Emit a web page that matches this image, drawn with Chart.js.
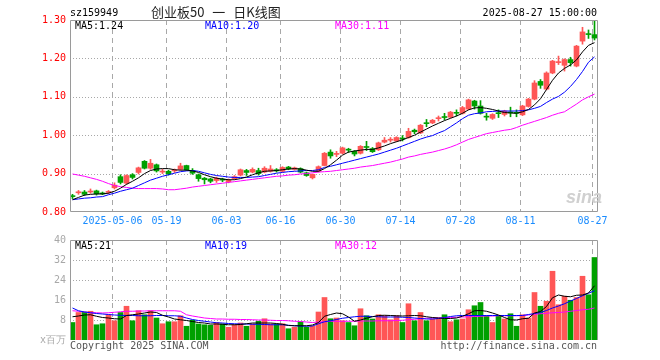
<!DOCTYPE html>
<html><head><meta charset="utf-8">
<script src="https://cdn.jsdelivr.net/npm/chart.js@4.4.1/dist/chart.umd.min.js"></script>
<style>
html,body{margin:0;padding:0;background:#fff;}
#wrap{position:relative;width:660px;height:360px;overflow:hidden;background:#fff;}
#price{position:absolute;left:0;top:0;}
#vol{position:absolute;left:0;top:225px;}
</style></head><body>
<div id="wrap">
<canvas id="price" width="660" height="360"></canvas>
<canvas id="vol" width="660" height="135"></canvas>
</div>
<script>
// ---------- data ----------
const dates = ['2025-04-22','2025-04-23','2025-04-24','2025-04-25','2025-04-28','2025-04-29','2025-04-30','2025-05-06','2025-05-07','2025-05-08','2025-05-09','2025-05-12','2025-05-13','2025-05-14','2025-05-15','2025-05-16','2025-05-19','2025-05-20','2025-05-21','2025-05-22','2025-05-23','2025-05-26','2025-05-27','2025-05-28','2025-05-29','2025-05-30','2025-06-03','2025-06-04','2025-06-05','2025-06-06','2025-06-09','2025-06-10','2025-06-11','2025-06-12','2025-06-13','2025-06-16','2025-06-17','2025-06-18','2025-06-19','2025-06-20','2025-06-23','2025-06-24','2025-06-25','2025-06-26','2025-06-27','2025-06-30','2025-07-01','2025-07-02','2025-07-03','2025-07-04','2025-07-07','2025-07-08','2025-07-09','2025-07-10','2025-07-11','2025-07-14','2025-07-15','2025-07-16','2025-07-17','2025-07-18','2025-07-21','2025-07-22','2025-07-23','2025-07-24','2025-07-25','2025-07-28','2025-07-29','2025-07-30','2025-07-31','2025-08-01','2025-08-04','2025-08-05','2025-08-06','2025-08-07','2025-08-08','2025-08-11','2025-08-12','2025-08-13','2025-08-14','2025-08-15','2025-08-18','2025-08-19','2025-08-20','2025-08-21','2025-08-22','2025-08-25','2025-08-26','2025-08-27'];

const openP = [0.842,0.850,0.852,0.852,0.855,0.849,0.851,0.863,0.892,0.875,
0.897,0.903,0.932,0.914,0.923,0.904,0.906,0.907,0.911,0.921,
0.908,0.897,0.888,0.886,0.882,0.884,0.879,0.887,0.896,0.908,
0.904,0.908,0.904,0.906,0.910,0.906,0.917,0.911,0.913,0.902,
0.889,0.906,0.921,0.956,0.950,0.953,0.963,0.958,0.953,0.970,
0.965,0.962,0.982,0.987,0.985,0.992,0.994,1.013,1.006,1.032,
1.032,1.043,1.047,1.047,1.058,1.057,1.068,1.089,1.076,1.049,
1.044,1.058,1.054,1.060,1.058,1.053,1.075,1.094,1.140,1.120,
1.162,1.189,1.182,1.197,1.180,1.245,1.264,1.262];

const highP = [0.846,0.856,0.856,0.860,0.857,0.852,0.856,0.876,0.897,0.897,
0.900,0.917,0.934,0.937,0.925,0.911,0.909,0.912,0.927,0.922,
0.913,0.899,0.890,0.888,0.891,0.888,0.886,0.895,0.912,0.911,
0.915,0.914,0.918,0.921,0.913,0.918,0.919,0.917,0.915,0.904,
0.899,0.920,0.955,0.962,0.958,0.969,0.966,0.960,0.973,0.984,
0.968,0.982,0.994,0.994,0.996,0.999,1.018,1.016,1.028,1.041,
1.041,1.050,1.057,1.062,1.066,1.075,1.094,1.091,1.090,1.057,
1.056,1.066,1.065,1.073,1.066,1.078,1.096,1.142,1.145,1.165,
1.195,1.206,1.199,1.203,1.234,1.281,1.274,1.300];

const lowP = [0.835,0.846,0.843,0.849,0.844,0.845,0.848,0.860,0.873,0.872,
0.886,0.899,0.912,0.911,0.904,0.900,0.896,0.903,0.909,0.908,
0.898,0.880,0.873,0.876,0.877,0.879,0.876,0.885,0.894,0.895,
0.902,0.896,0.902,0.904,0.904,0.904,0.910,0.909,0.902,0.893,
0.886,0.904,0.920,0.940,0.944,0.951,0.955,0.946,0.951,0.960,
0.955,0.960,0.980,0.982,0.983,0.985,0.992,1.004,1.004,1.022,
1.030,1.037,1.040,1.045,1.050,1.055,1.066,1.068,1.055,1.039,
1.041,1.046,1.050,1.048,1.048,1.051,1.073,1.092,1.122,1.118,
1.160,1.184,1.167,1.180,1.178,1.237,1.252,1.248];

const closeP = [0.840,0.852,0.846,0.854,0.847,0.847,0.853,0.870,0.877,0.895,
0.890,0.915,0.914,0.927,0.907,0.906,0.899,0.909,0.920,0.910,
0.901,0.887,0.884,0.880,0.888,0.883,0.883,0.892,0.910,0.903,
0.911,0.900,0.914,0.912,0.907,0.916,0.912,0.915,0.904,0.895,
0.898,0.918,0.953,0.946,0.952,0.967,0.961,0.951,0.971,0.968,
0.957,0.980,0.987,0.989,0.994,0.990,1.010,1.009,1.026,1.030,
1.039,1.045,1.046,1.060,1.057,1.072,1.092,1.076,1.057,1.047,
1.054,1.056,1.063,1.058,1.057,1.076,1.094,1.136,1.130,1.162,
1.193,1.191,1.197,1.189,1.232,1.269,1.262,1.253];

const ma5 = [0.832,0.838,0.844,0.846,0.847,0.847,0.849,0.854,0.862,0.872,
0.880,0.889,0.900,0.908,0.912,0.913,0.913,0.910,0.909,0.909,
0.907,0.903,0.897,0.892,0.888,0.886,0.884,0.884,0.887,0.891,
0.897,0.902,0.906,0.907,0.908,0.910,0.912,0.913,0.912,0.909,
0.906,0.906,0.913,0.923,0.935,0.948,0.956,0.959,0.961,0.963,
0.963,0.967,0.972,0.978,0.983,0.988,0.994,1.000,1.008,1.016,
1.024,1.031,1.038,1.044,1.050,1.057,1.066,1.071,1.072,1.070,
1.067,1.063,1.059,1.058,1.057,1.061,1.067,1.079,1.095,1.119,
1.143,1.162,1.174,1.183,1.196,1.217,1.234,1.241];

const ma10 = [0.832,0.834,0.836,0.837,0.839,0.840,0.845,0.849,0.854,0.858,
0.862,0.869,0.876,0.883,0.888,0.893,0.897,0.901,0.905,0.907,
0.908,0.906,0.902,0.898,0.895,0.893,0.891,0.890,0.890,0.890,
0.891,0.892,0.895,0.898,0.901,0.903,0.905,0.906,0.907,0.908,
0.908,0.910,0.916,0.919,0.923,0.927,0.931,0.935,0.939,0.943,
0.947,0.951,0.956,0.961,0.966,0.972,0.978,0.984,0.990,0.995,
0.999,1.006,1.012,1.022,1.032,1.043,1.052,1.056,1.058,1.061,
1.062,1.063,1.063,1.063,1.063,1.064,1.066,1.070,1.075,1.085,
1.094,1.101,1.112,1.127,1.145,1.166,1.190,1.204];

const ma30 = [0.899,0.896,0.893,0.889,0.885,0.880,0.874,0.869,0.866,0.864,
0.862,0.861,0.861,0.861,0.861,0.860,0.858,0.858,0.860,0.862,
0.865,0.867,0.869,0.871,0.873,0.875,0.877,0.879,0.881,0.883,
0.885,0.887,0.889,0.891,0.893,0.894,0.896,0.897,0.899,0.900,
0.902,0.904,0.905,0.906,0.908,0.910,0.912,0.914,0.917,0.919,
0.921,0.924,0.927,0.930,0.934,0.938,0.943,0.946,0.950,0.953,
0.956,0.960,0.964,0.969,0.975,0.982,0.989,0.994,0.999,1.004,
1.007,1.010,1.013,1.015,1.020,1.026,1.031,1.036,1.041,1.046,
1.052,1.057,1.061,1.071,1.081,1.092,1.100,1.107];

const volume = [7.0,11.0,11.2,11.5,6.1,6.5,10.1,7.7,11.0,13.5,
7.7,11.7,10.1,11.7,8.8,6.5,7.3,7.3,9.7,5.5,
7.9,6.4,6.1,5.9,7.0,6.4,5.1,6.1,6.8,5.5,
6.4,7.5,8.5,6.4,6.4,6.5,4.5,5.1,7.3,5.1,
5.5,11.2,17.0,8.5,8.8,7.7,7.0,5.7,12.5,9.7,
8.4,10.1,9.7,8.1,9.7,7.0,14.5,7.7,11.0,7.7,
8.4,8.4,10.1,7.3,8.1,8.4,12.1,13.7,15.0,9.7,
7.0,9.5,8.4,10.5,5.5,10.1,8.8,19.0,13.5,15.5,
27.5,14.1,17.5,15.9,17.0,25.5,18.1,33.0];

const volMa5 = [9.3,9.6,10.0,10.1,9.5,9.0,8.8,8.5,8.4,9.8,
10.1,10.4,10.8,11.2,11.0,9.9,9.2,8.4,8.1,7.8,
7.4,7.0,6.8,6.4,6.4,6.3,6.1,6.1,6.2,6.5,
6.8,6.8,6.8,6.8,6.6,6.3,5.8,5.7,5.7,5.7,
6.0,7.0,9.5,10.2,10.8,10.5,9.2,7.5,8.0,8.7,
9.3,9.8,9.9,9.8,9.7,9.6,9.7,9.8,9.7,9.3,
9.0,8.8,8.6,8.6,8.8,9.5,10.5,11.7,11.8,11.5,
10.8,10.0,9.0,8.1,8.0,8.5,8.7,10.8,11.4,13.4,
16.9,18.0,17.5,17.3,17.9,18.0,18.8,21.7];

const volMa10 = [12.8,11.7,11.2,10.9,10.6,10.4,10.2,10.0,9.9,9.8,
9.8,9.7,9.7,9.7,9.8,9.8,9.7,9.7,9.5,8.8,
8.2,7.8,7.5,7.2,6.9,6.8,6.6,6.5,6.4,6.4,
6.3,6.3,6.2,6.1,6.1,6.1,5.9,5.7,5.6,5.5,
5.6,6.5,7.3,7.7,8.2,8.7,9.0,9.3,9.5,9.5,
9.4,9.3,9.2,9.2,9.2,9.1,9.0,8.8,8.6,8.4,
8.4,8.6,9.0,9.4,9.7,9.8,9.8,9.8,9.8,9.8,
9.8,9.8,9.8,9.8,9.8,9.8,10.2,10.6,11.0,11.8,
12.8,13.6,14.5,15.6,16.6,17.7,18.7,19.7];

const volMa30 = [11.7,11.5,11.2,11.0,10.9,10.8,10.9,11.1,11.3,11.5,
11.5,11.6,11.6,11.7,11.7,11.7,11.7,11.7,11.5,10.1,
9.6,9.2,8.8,8.6,8.4,8.4,8.3,8.3,8.2,8.2,
8.1,8.0,8.0,7.9,7.8,7.8,7.7,7.5,7.4,7.2,
7.0,7.2,7.3,7.5,7.5,7.5,7.5,7.5,7.6,7.6,
7.6,7.7,7.7,7.7,7.8,7.9,8.1,8.3,8.5,8.7,
8.8,8.9,8.9,9.0,9.1,9.2,9.3,9.4,9.5,9.6,
9.6,9.7,9.7,9.7,9.7,9.8,10.0,10.3,10.5,10.7,
10.9,11.0,11.2,11.5,11.8,12.1,12.3,12.8];

const xTickDates = ['2025-05-06','2025-05-19','2025-06-03','2025-06-16','2025-06-30','2025-07-14','2025-07-28','2025-08-11','2025-08-27'];
const xTickLabels = ['2025-05-06','05-19','06-03','06-16','06-30','07-14','07-28','08-11','08-27'];
const priceTicks = [0.80,0.90,1.00,1.10,1.20,1.30];
const volTicks = [0,8,16,24,32,40];

// ---------- style ----------
const RED = '#ff5656', GREEN = '#00a000';
const MONO = '"DejaVu Sans Mono", "Liberation Mono", monospace';
const GRIDC = '#a8a8a8', FRAMEC = '#9a9a9a';
const X_MIN = -0.4167, X_MAX = 87.5833;
const candleColor = closeP.map((c,i)=> c >= openP[i] ? RED : GREEN);

function xScale(show){
  return {
    type:'linear', offset:false, min:X_MIN, max:X_MAX, display:show,
    grid:{display:false, drawTicks:false}, border:{display:false},
    afterBuildTicks: s => { s.ticks = xTickDates.map(d => ({value: dates.indexOf(d) - 1/3})); },
    afterFit: s => { s.height = show ? 13 : 0; s.paddingLeft = 0; s.paddingRight = 0; },
    ticks:{autoSkip:false, maxRotation:0, minRotation:0, padding:3, color:'#1a8cff',
      font:{family:MONO, size:10}, callback:(v,i)=>xTickLabels[i]}
  };
}
function yScale(min,max,ticksArr,color,fmt){
  return {
    type:'linear', min:min, max:max, beginAtZero:false,
    grid:{display:false, drawTicks:false}, border:{display:false},
    afterBuildTicks: s => { s.ticks = ticksArr.map(v=>({value:v})); },
    afterFit: s => { s.width = 70; s.paddingTop = 0; s.paddingBottom = 0; },
    ticks:{padding:4, color:color, font:{family:MONO, size:10}, callback:fmt}
  };
}
function txt(ctx,s,x,y,color,font,align){
  ctx.font = font; ctx.fillStyle = color; ctx.textAlign = align || 'left'; ctx.textBaseline = 'middle';
  ctx.fillText(s,x,y);
}
function gridPlugin(hTicks, isPrice){
  return {
    id:'sinaGrid',
    beforeDatasetsDraw(chart){
      const {ctx, chartArea:a, scales:{x,y}} = chart;
      ctx.save();
      ctx.strokeStyle = GRIDC; ctx.lineWidth = 1;
      ctx.setLineDash([1,2]);
      for (const v of hTicks){
        const py = Math.round(y.getPixelForValue(v)) + 0.5;
        if (py <= a.top + 2 || py >= a.bottom - 2) continue;
        ctx.beginPath(); ctx.moveTo(a.left, py); ctx.lineTo(a.right, py); ctx.stroke();
      }
      ctx.setLineDash([5,4]);
      for (const d of xTickDates){
        const px = Math.floor(x.getPixelForValue(dates.indexOf(d) - 1/3)) + 0.5;
        ctx.beginPath(); ctx.moveTo(px, a.top); ctx.lineTo(px, a.bottom); ctx.stroke();
      }
      ctx.restore();
    },
    afterDraw(chart){
      const {ctx, chartArea:a} = chart;
      ctx.save();
      ctx.strokeStyle = FRAMEC; ctx.lineWidth = 1; ctx.setLineDash([]);
      ctx.beginPath();
      if (isPrice){
        ctx.rect(a.left+0.5, a.top+0.5, a.right-a.left-1, a.bottom-a.top-1);
      } else {
        ctx.moveTo(a.left+0.5, a.bottom); ctx.lineTo(a.left+0.5, a.top+0.5);
        ctx.lineTo(a.right-0.5, a.top+0.5); ctx.lineTo(a.right-0.5, a.bottom);
      }
      ctx.stroke();
      const f10 = '10px ' + MONO;
      const n = dates.length - 1;
      if (isPrice){
        txt(ctx,'sz159949',70,13,'#000',f10);
        ctx.save();
        try { ctx.wordSpacing = '5px'; } catch(e) {}
        txt(ctx,'创业板50 一 日K线图',151,12.5,'#222','13px "Noto Sans CJK SC", sans-serif');
        ctx.restore();
        txt(ctx,'2025-08-27 15:00:00',597,13,'#000',f10,'right');
        txt(ctx,'MA5:'+ma5[n].toFixed(2),75,26.5,'#000',f10);
        txt(ctx,'MA10:'+ma10[n].toFixed(2),205,26.5,'#0000ff',f10);
        txt(ctx,'MA30:'+ma30[n].toFixed(2),335,26.5,'#ff00ff',f10);
        txt(ctx,'sina',566,198,'#d0d0d0','italic bold 18px "Liberation Sans", sans-serif');
      } else {
        txt(ctx,'MA5:'+Math.floor(volMa5[n]),75,21.7,'#000',f10);
        txt(ctx,'MA10:'+Math.floor(volMa10[n]),205,21.7,'#0000ff',f10);
        txt(ctx,'MA30:'+Math.floor(volMa30[n]),335,21.7,'#ff00ff',f10);
        txt(ctx,'Copyright 2025 SINA.COM',70,121,'#555',f10);
        txt(ctx,'http://finance.sina.com.cn',597,121,'#555',f10,'right');
      }
      ctx.restore();
    }
  };
}
function lineDs(arr,color,order){
  return {type:'line', data:arr.map((v,i)=>({x:i,y:v})), borderColor:color, borderWidth:1,
    pointRadius:0, pointHoverRadius:0, tension:0, fill:false, order:order};
}
const common = {responsive:false, animation:false, events:[],
  plugins:{legend:{display:false}, tooltip:{enabled:false}}};

new Chart(document.getElementById('price'), {
  type:'bar',
  data:{datasets:[
    lineDs(ma5,'#000000',0), lineDs(ma10,'#0000ff',1), lineDs(ma30,'#ff00ff',2),
    {type:'bar', data:openP.map((o,i)=>({x:i, y:[Math.min(o,closeP[i]), Math.max(o,closeP[i])]})),
      backgroundColor:candleColor, barThickness:5, grouped:false, minBarLength:1, borderWidth:0, order:3},
    {type:'bar', data:openP.map((o,i)=>({x:i, y:[lowP[i], highP[i]]})),
      backgroundColor:candleColor, barThickness:1, grouped:false, borderWidth:0, order:4}
  ]},
  options:Object.assign({}, common, {
    layout:{autoPadding:false, padding:{left:0,right:62,top:20,bottom:135}},
    scales:{ x:xScale(true), y:yScale(0.8,1.3,priceTicks,'#ff0000',v=>Number(v).toFixed(2)) }
  }),
  plugins:[gridPlugin(priceTicks,true)]
});

new Chart(document.getElementById('vol'), {
  type:'bar',
  data:{datasets:[
    lineDs(volMa5,'#000000',0), lineDs(volMa10,'#0000ff',1), lineDs(volMa30,'#ff00ff',2),
    {type:'bar', data:volume.map((v,i)=>({x:i, y:v})), backgroundColor:candleColor,
      barThickness:5, grouped:false, borderWidth:0, order:3}
  ]},
  options:Object.assign({}, common, {
    layout:{autoPadding:false, padding:{left:0,right:62,top:15,bottom:20}},
    scales:{ x:xScale(false), y:yScale(0,40,volTicks,'#a8a8a8',v=> v===0 ? 'x百万' : String(v)) }
  }),
  plugins:[gridPlugin(volTicks,false)]
});
</script>
</body></html>
